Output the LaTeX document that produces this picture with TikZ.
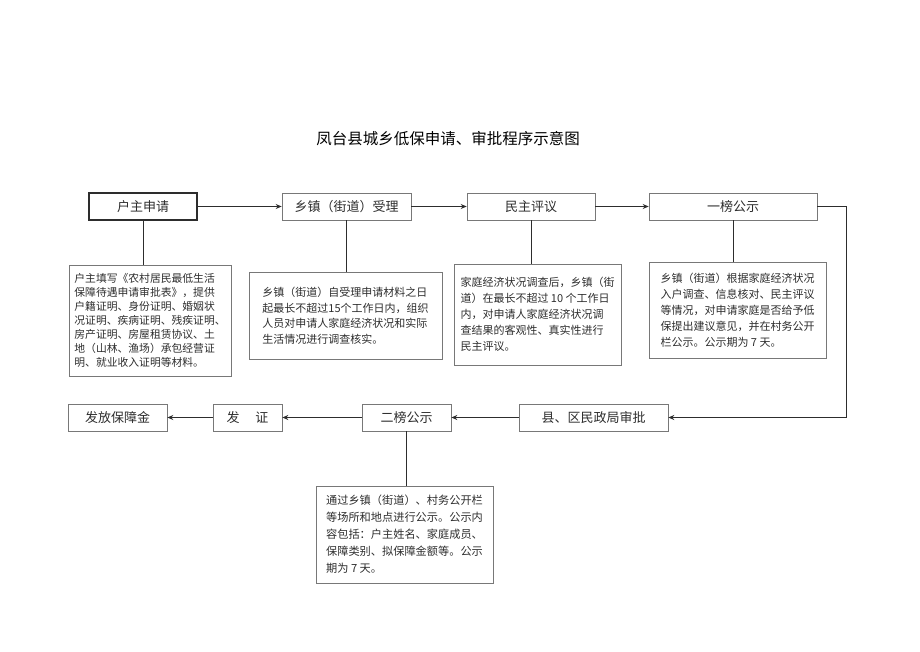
\documentclass[tikz,border=0pt]{standalone}
\usepackage{fontspec}
\setmainfont{Noto Sans CJK SC}
\definecolor{inkgray}{RGB}{45, 45, 45}
\definecolor{framegray}{RGB}{120, 120, 120}
\usepackage{tikz}
\usetikzlibrary{arrows.meta, positioning, calc}
\tikzstyle{stepbox} = [draw=framegray, line width=0.6pt, minimum height=27pt, inner sep=0pt,
                       text=inkgray, font=\fontsize{13}{15}\selectfont, align=center]
\tikzstyle{notebox} = [draw=framegray, line width=0.6pt, inner sep=0pt,
                       text=inkgray, font=\fontsize{11}{15.5}\selectfont, align=left]
\tikzstyle{flow} = [-{Stealth[length=6pt, width=5pt]}, inkgray, line width=1pt]
\tikzstyle{link} = [inkgray, line width=1pt]

\begin{document}
\begin{tikzpicture}[x=1pt, y=1pt]
                    \useasboundingbox (0, 0) rectangle (920, 651);
                    \node[font=\fontsize{15.5}{18}\selectfont, text=black] (title) at (448, 512) {凤台县城乡低保申请、审批程序示意图};
                    % top row
                    \node[stepbox, draw=inkgray, line width=1.2pt, minimum width=108pt] (apply) at (143, 444.5) {户主申请};
                    \node[stepbox, minimum width=129pt] (accept) at (346.5, 444.5) {乡镇（街道）受理};
                    \node[stepbox, minimum width=128pt] (review) at (531, 444.5) {民主评议};
                    \node[stepbox, minimum width=168pt] (pub1) at (733, 444.5) {一榜公示};
                    \draw[flow] (apply) -- (accept);
                    \draw[flow] (accept) -- (review);
                    \draw[flow] (review) -- (pub1);
                    % notes under the top row
                    \node[notebox, minimum width=162pt, minimum height=111pt, font=\fontsize{10.8}{14}\selectfont] (n1) at (150, 330.5)
                        {户主填写《农村居民最低生活\\保障待遇申请审批表》，提供\\户籍证明、身份证明、婚姻状\\况证明、疾病证明、残疾证明、\\房产证明、房屋租赁协议、土\\地（山林、渔场）承包经营证\\明、就业收入证明等材料。};
                    \node[notebox, minimum width=193pt, minimum height=87pt] (n2) at (345.5, 335.5)
                        {乡镇（街道）自受理申请材料之日\\起最长不超过15个工作日内，组织\\人员对申请人家庭经济状况和实际\\生活情况进行调查核实。};
                    \node[notebox, minimum width=167pt, minimum height=101pt, font=\fontsize{11}{16}\selectfont] (n3) at (537.5, 336.5)
                        {家庭经济状况调查后，乡镇（街\\道）在最长不超过 10 个工作日\\内，对申请人家庭经济状况调\\查结果的客观性、真实性进行\\民主评议。};
                    \node[notebox, minimum width=177pt, minimum height=96pt, font=\fontsize{11}{16}\selectfont] (n4) at (737.5, 341)
                        {乡镇（街道）根据家庭经济状况\\入户调查、信息核对、民主评议\\等情况，对申请家庭是否给予低\\保提出建议意见，并在村务公开\\栏公示。公示期为 7 天。};
                    \draw[link] (apply.south) -- (apply.south |- n1.north);
                    \draw[link] (accept.south) -- (accept.south |- n2.north);
                    \draw[link] (review.south) -- (review.south |- n3.north);
                    \draw[link] (pub1.south) -- (pub1.south |- n4.north);
                    % bottom row
                    \node[stepbox, minimum width=99pt] (pay) at (117.5, 233.5) {发放保障金};
                    \node[stepbox, minimum width=69pt] (cert) at (247.5, 233.5) {发\hspace{1.2em}证};
                    \node[stepbox, minimum width=89pt] (pub2) at (406.5, 233.5) {二榜公示};
                    \node[stepbox, minimum width=149pt] (approve) at (593.5, 233.5) {县、区民政局审批};
                    \coordinate (turn) at (846, 444.5);
                    \draw[flow] (pub1.east) -- (turn) |- (approve.east);
                    \draw[flow] (approve) -- (pub2);
                    \draw[flow] (pub2) -- (cert);
                    \draw[flow] (cert) -- (pay);
                    \node[notebox, minimum width=177pt, minimum height=97pt, font=\fontsize{11.2}{17}\selectfont] (n5) at (404.5, 116.5)
                        {通过乡镇（街道）、村务公开栏\\等场所和地点进行公示。公示内\\容包括：户主姓名、家庭成员、\\保障类别、拟保障金额等。公示\\期为 7 天。};
                    \draw[link] (pub2.south) -- (pub2.south |- n5.north);
                \end{tikzpicture}
\end{document}
